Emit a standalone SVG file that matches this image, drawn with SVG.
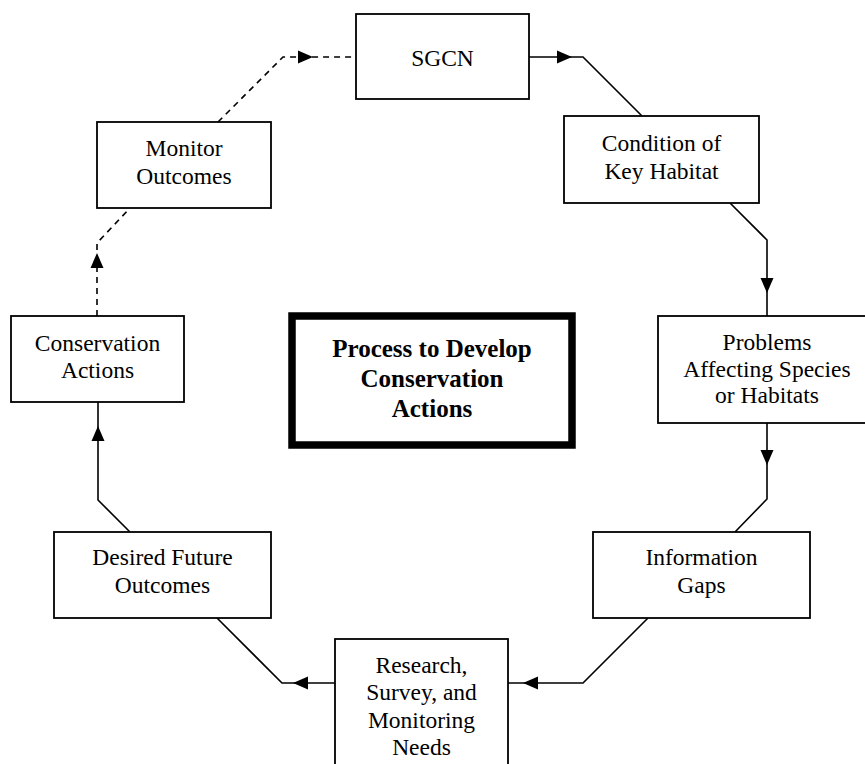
<svg xmlns="http://www.w3.org/2000/svg" xmlns:xlink="http://www.w3.org/1999/xlink" width="865" height="764" viewBox="0 0 865 764">
  <style>
    .box { fill: #fff; stroke: #000; stroke-width: 1.8; }
    .title-box { fill: #fff; stroke: #000; stroke-width: 7.5; }
    .lbl { font-family: "Liberation Serif", "Times New Roman", serif; font-size: 23.5px; fill: #000; text-anchor: middle; }
    .title { font-family: "Liberation Serif", "Times New Roman", serif; font-size: 25px; font-weight: bold; fill: #000; text-anchor: middle; }
    .conn { fill: none; stroke: #000; stroke-width: 1.6; }
    .dash { stroke-dasharray: 6 5; }
  </style>
  <defs>
    <polygon id="ah" points="0,0 -15,-6.5 -15,6.5" fill="#000"/>
  </defs>
  <rect width="865" height="764" fill="#fff"/>

  <g id="connectors">
    <path class="conn" d="M529,57 H583 L642,116"/>
    <use xlink:href="#ah" transform="translate(572,57)"/>
    <path class="conn" d="M730,203 L767,240 V316"/>
    <use xlink:href="#ah" transform="translate(767,293) rotate(90)"/>
    <path class="conn" d="M767,423 V499 L735,532"/>
    <use xlink:href="#ah" transform="translate(767,465) rotate(90)"/>
    <path class="conn" d="M648,618 L583,683 H508"/>
    <use xlink:href="#ah" transform="translate(523,683) rotate(180)"/>
    <path class="conn" d="M335,683 H282 L217,618"/>
    <use xlink:href="#ah" transform="translate(293,683) rotate(180)"/>
    <path class="conn" d="M130,532 L98,500 V402"/>
    <use xlink:href="#ah" transform="translate(98,426) rotate(-90)"/>
    <path class="conn dash" d="M97,316 V243 L130,208"/>
    <use xlink:href="#ah" transform="translate(97,253) rotate(-90)"/>
    <path class="conn dash" d="M218,122 L283,57 H356"/>
    <use xlink:href="#ah" transform="translate(313,57)"/>
  </g>

  <g id="sgcn">
    <rect class="box" x="356" y="14" width="173" height="85"/>
    <text class="lbl" x="442.5" y="66">SGCN</text>
  </g>
  <g id="condition">
    <rect class="box" x="564" y="116" width="195" height="87"/>
    <text class="lbl" x="661.5" y="151">Condition of</text>
    <text class="lbl" x="661.5" y="179">Key Habitat</text>
  </g>
  <g id="problems">
    <rect class="box" x="658" y="316" width="218" height="107"/>
    <text class="lbl" x="767" y="350">Problems</text>
    <text class="lbl" x="767" y="377">Affecting Species</text>
    <text class="lbl" x="767" y="403">or Habitats</text>
  </g>
  <g id="info">
    <rect class="box" x="593" y="532" width="217" height="86"/>
    <text class="lbl" x="701.5" y="565">Information</text>
    <text class="lbl" x="701.5" y="593">Gaps</text>
  </g>
  <g id="research">
    <rect class="box" x="335" y="639" width="173" height="140"/>
    <text class="lbl" x="421.5" y="673">Research,</text>
    <text class="lbl" x="421.5" y="700">Survey, and</text>
    <text class="lbl" x="421.5" y="728">Monitoring</text>
    <text class="lbl" x="421.5" y="755">Needs</text>
  </g>
  <g id="desired">
    <rect class="box" x="54" y="532" width="217" height="86"/>
    <text class="lbl" x="162.5" y="565">Desired Future</text>
    <text class="lbl" x="162.5" y="593">Outcomes</text>
  </g>
  <g id="conservation">
    <rect class="box" x="11" y="316" width="173" height="86"/>
    <text class="lbl" x="97.5" y="351">Conservation</text>
    <text class="lbl" x="97.5" y="378">Actions</text>
  </g>
  <g id="monitor">
    <rect class="box" x="97" y="122" width="174" height="86"/>
    <text class="lbl" x="184" y="156">Monitor</text>
    <text class="lbl" x="184" y="184">Outcomes</text>
  </g>
  <g id="title">
    <rect class="title-box" x="292" y="316" width="280" height="129"/>
    <text class="title" x="432" y="356.5">Process to Develop</text>
    <text class="title" x="432" y="386.5">Conservation</text>
    <text class="title" x="432" y="416.5">Actions</text>
  </g>
</svg>
